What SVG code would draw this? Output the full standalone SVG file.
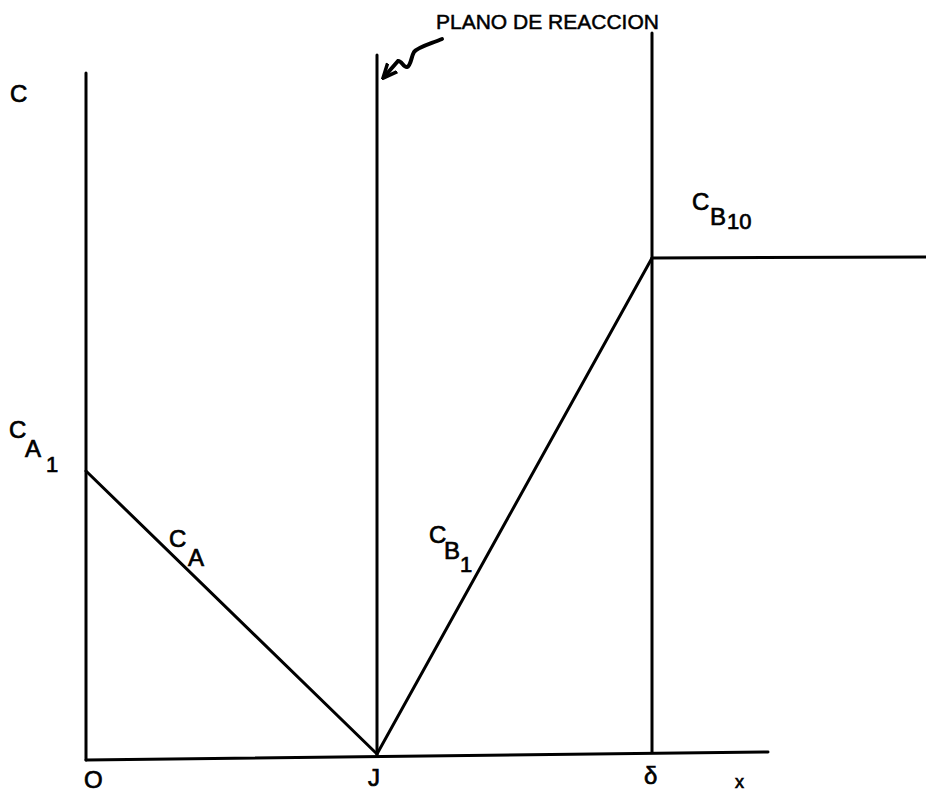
<svg xmlns="http://www.w3.org/2000/svg" width="926" height="797" viewBox="0 0 926 797">
<defs>
<style>
.ln{stroke:#000;stroke-width:3;fill:none;stroke-linecap:round;stroke-linejoin:round}
.t{font-family:"Liberation Sans",Arial,sans-serif;fill:#000;stroke:#000;stroke-width:0.7}
.big{font-size:24px}
.sub{font-size:22px}
</style>
<marker id="ah" viewBox="0 0 10 10" refX="8" refY="5" markerWidth="4" markerHeight="4" orient="auto">
<path d="M0,1 L9,5 L0,9" fill="none" stroke="#000" stroke-width="2.2"/>
</marker>
</defs>
<rect width="926" height="797" fill="#fff"/>
<g id="connectors">
<line class="ln" x1="86" y1="73" x2="86" y2="760"/>
<line class="ln" x1="86" y1="760" x2="768" y2="752"/>
<line class="ln" x1="377" y1="55" x2="377" y2="754"/>
<line class="ln" x1="652" y1="33" x2="652" y2="752"/>
<line class="ln" x1="86" y1="471" x2="377" y2="754"/>
<line class="ln" x1="377" y1="754" x2="652" y2="258"/>
<line class="ln" x1="652" y1="258" x2="926" y2="257"/>
<path class="ln" style="stroke-width:4" d="M442,39 C430,44 418,47 414,52 C411,57 411,66 407,67 C404,68 401,60 398,61 L384,77" marker-end="url(#ah)"/>
</g>
<g id="labels">
<text class="t" x="436" y="29" font-size="21" style="stroke-width:0.5">PLANO DE REACCION</text>
<text class="t big" x="10" y="102">C</text>
<g id="CA1"><text class="t big" x="9" y="438">C</text><text class="t big" x="25" y="457">A</text><text class="t sub" x="46" y="472">1</text></g>
<g id="CA"><text class="t big" x="169" y="547">C</text><text class="t big" x="188" y="566">A</text></g>
<g id="CB1"><text class="t big" x="429" y="543">C</text><text class="t big" x="444" y="559">B</text><text class="t sub" x="460" y="572">1</text></g>
<g id="CB10"><text class="t big" x="692" y="210">C</text><text class="t big" x="710" y="225">B</text><text class="t sub" x="727" y="229">10</text></g>
<text class="t big" x="84" y="788">O</text>
<text class="t big" x="368" y="786">J</text>
<text class="t big" x="644" y="784">δ</text>
<text class="t" x="735" y="788" font-size="18">x</text>
</g>
</svg>
